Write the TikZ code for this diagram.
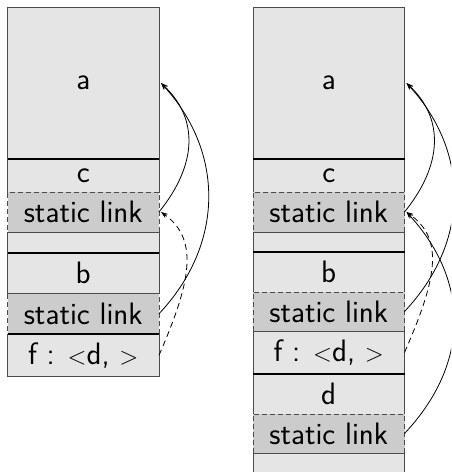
\documentclass[tikz,border=0pt]{standalone}
\usetikzlibrary{arrows.meta}
\begin{document}
\begin{tikzpicture}[x=1pt,y=-1pt,
  cell/.style={draw=black!70, fill=black!10, line width=0.9pt,
    minimum width=151.5pt, inner sep=0pt, outer sep=0pt, anchor=north,
    font=\sffamily\fontsize{31}{36}\selectfont},
  slink/.style={cell, fill=black!20, draw=black!70, dash pattern=on 5pt off 3pt},
  frameline/.style={line width=1.7pt, black},
  link/.style={line width=0.8pt, -{Stealth[length=7pt,width=5pt]}},
  dlink/.style={link, dash pattern=on 6pt off 4pt}
]
\useasboundingbox (0,0) rectangle (451,472);
\clip (0,0) rectangle (451,472);

% ---- left stack ----
\node[cell, minimum height=152] (La) at (83.25,7) {a};
\node[cell, minimum height=33] (Lc) at (83.25,159) {c};
\node[cell, minimum height=21] (Le) at (83.25,232) {};
\node[cell, minimum height=40.5] (Lb) at (83.25,253) {b};
\node[cell, minimum height=42.5] (Lf) at (83.25,334) {f : $<$d, $>$};
\node[slink, minimum height=40] (Ls1) at (83.25,192) {static link};
\node[slink, minimum height=40.5] (Ls2) at (83.25,293.5) {static link};

% ---- right stack ----
\node[cell, minimum height=152] (Ra) at (328.75,7) {a};
\node[cell, minimum height=33] (Rc) at (328.75,159) {c};
\node[cell, minimum height=20] (Re) at (328.75,232) {};
\node[cell, minimum height=40] (Rb) at (328.75,252) {b};
\node[cell, minimum height=43] (Rf) at (328.75,331) {f : $<$d, $>$};
\node[cell, minimum height=40] (Rd) at (328.75,374) {d};
\node[cell, minimum height=30] (Re2) at (328.75,453) {};
\node[slink, minimum height=40] (Rs1) at (328.75,192) {static link};
\node[slink, minimum height=39] (Rs2) at (328.75,292) {static link};
\node[slink, minimum height=39] (Rs3) at (328.75,414) {static link};

% ---- frame boundaries ----
\draw[frameline] (La.south west) -- (La.south east);
\draw[frameline] (Lb.north west) -- (Lb.north east);
\draw[frameline] (Lf.north west) -- (Lf.north east);
\draw[frameline] (Ra.south west) -- (Ra.south east);
\draw[frameline] (Rb.north west) -- (Rb.north east);
\draw[frameline] (Rd.north west) -- (Rd.north east);

% ---- static links, left ----
\draw[link] (Ls1.east) .. controls +(38,-47) and +(38,36) .. ([xshift=2pt]La.east);
\draw[link] (Ls2.east) .. controls +(65,-69) and +(64,70) .. ([xshift=2pt]La.east);
\draw[dlink] (Lf.east) .. controls +(31,-71) and +(39,28) .. ([xshift=2pt]Ls1.east);

% ---- static links, right ----
\draw[link] (Rs1.east) .. controls +(38,-47) and +(38,36) .. ([xshift=2pt]Ra.east);
\draw[link] (Rs2.east) .. controls +(65,-69) and +(64,70) .. ([xshift=2pt]Ra.east);
\draw[dlink] (Rf.east) .. controls +(31,-71) and +(39,28) .. ([xshift=2pt]Rs1.east);
\draw[link] (Rs3.east) .. controls +(65,-69) and +(64,70) .. ([xshift=2pt]Rs1.east);
\end{tikzpicture}
\end{document}
